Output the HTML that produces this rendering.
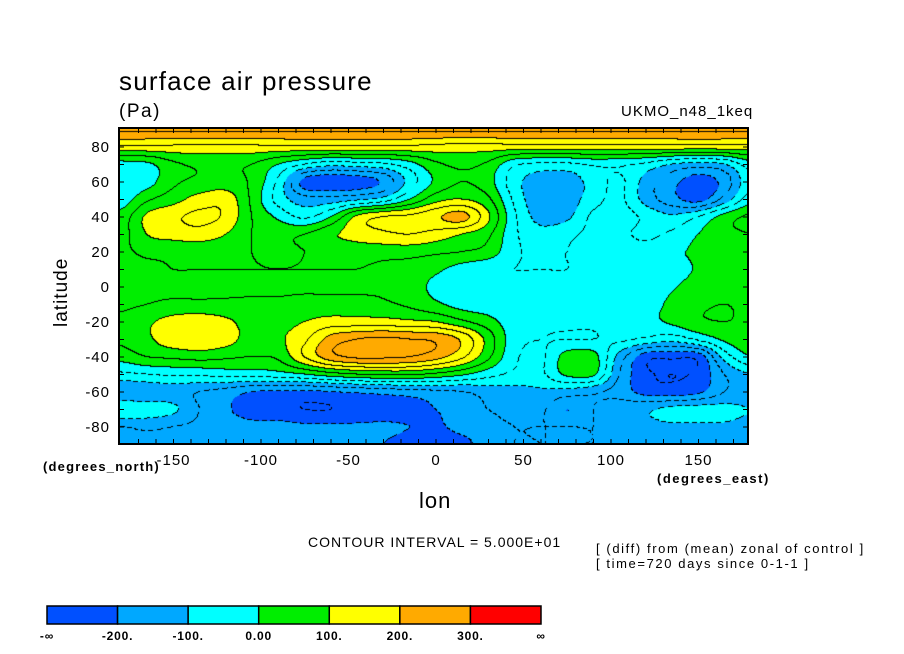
<!DOCTYPE html>
<html><head><meta charset="utf-8"><style>
body{margin:0;background:#fff;width:904px;height:654px;position:relative;overflow:hidden;font-family:"Liberation Sans",sans-serif;}
.t{position:absolute;white-space:nowrap;color:#000;}
</style></head><body>
<div class="t" style="left:119px;top:66px;font-size:26px;letter-spacing:1.2px;">surface air pressure</div>
<div class="t" style="left:119px;top:101px;font-size:19px;letter-spacing:1.5px;">(Pa)</div>
<div class="t" style="left:621px;top:103px;font-size:15px;letter-spacing:1px;">UKMO_n48_1keq</div>
<div class="t" style="left:22px;top:276px;font-size:19px;letter-spacing:1px;transform:rotate(-90deg);transform-origin:40px 11px;">latitude</div>
<div class="t" style="left:43px;top:459px;font-size:13px;font-weight:bold;letter-spacing:1.2px;">(degrees_north)</div>
<div class="t" style="left:657px;top:471px;font-size:13px;font-weight:bold;letter-spacing:1.5px;">(degrees_east)</div>
<div class="t" style="left:419px;top:488px;font-size:22px;letter-spacing:1px;">lon</div>
<div class="t" style="left:308px;top:534px;font-size:14px;letter-spacing:1px;">CONTOUR INTERVAL = 5.000E+01</div>
<div class="t" style="left:596px;top:541px;font-size:13px;letter-spacing:1.6px;">[ (diff) from (mean) zonal of control ]</div>
<div class="t" style="left:596px;top:556px;font-size:13px;letter-spacing:1.6px;">[ time=720 days since 0-1-1 ]</div>
<canvas id="map" width="629" height="316" style="position:absolute;left:119px;top:128px;"></canvas>
<svg id="ov" width="904" height="654" style="position:absolute;left:0;top:0;"></svg>
<script>
const lons=[-180,-165,-150,-135,-120,-105,-90,-75,-60,-45,-30,-15,0,15,30,45,60,75,90,105,120,135,150,165,180];
const lats=[90,80,70,60,50,40,30,20,10,0,-10,-20,-30,-40,-50,-60,-70,-80,-90];
const pressureDiff=[
[260,260,260,260,260,260,260,260,260,260,260,260,260,260,260,260,260,260,260,260,260,260,260,260,260],
[140,140,140,140,140,140,140,140,140,140,140,140,135,130,130,130,130,130,130,130,130,130,130,130,130],
[-20,-10,40,60,60,50,0,-50,-80,-70,-60,-20,40,60,40,-40,-60,-60,-40,-40,-60,-100,-120,-100,-20],
[-40,-20,40,60,70,40,-60,-220,-240,-230,-190,-80,10,50,20,-80,-130,-130,-80,-40,-120,-180,-230,-180,-60],
[-30,40,80,120,130,40,-70,-130,-130,-110,-80,0,80,100,60,-60,-140,-130,-70,-40,-120,-180,-220,-130,-20],
[20,110,140,160,140,50,-10,-60,0,110,150,160,190,220,110,-40,-120,-110,-40,-30,-60,-90,-50,20,60],
[30,100,120,130,100,50,40,50,90,120,140,150,130,100,60,-40,-80,-60,-40,-40,-60,-40,0,40,50],
[40,60,60,60,60,50,40,50,60,70,70,70,60,50,30,-40,-60,-50,-40,-30,-30,-10,10,40,50],
[30,40,50,50,50,50,50,50,50,50,40,30,10,-20,-40,-50,-50,-50,-40,-30,-20,-20,5,20,40],
[20,40,40,40,40,40,40,40,40,40,40,20,-10,-30,-40,-40,-40,-40,-40,-30,-30,-5,20,30,30],
[40,50,60,60,60,60,60,70,70,70,60,40,10,-20,-30,-40,-40,-40,-40,-30,-20,10,40,50,40],
[60,90,120,130,110,80,80,100,120,120,120,110,100,60,20,-30,-40,-40,-40,-30,-20,10,40,50,40],
[60,90,130,140,120,80,90,140,220,250,260,250,240,190,80,-30,-50,-50,-50,-40,-60,-80,-40,10,40],
[20,50,60,70,60,50,60,150,230,260,260,250,220,160,60,-40,-60,20,20,-120,-230,-240,-230,-80,0],
[-60,-50,-40,-40,-30,-30,-20,0,30,50,60,60,40,10,-30,-60,-60,10,10,-150,-240,-250,-240,-150,-100],
[-150,-140,-130,-150,-170,-200,-210,-210,-200,-190,-180,-170,-160,-150,-130,-120,-110,-120,-140,-170,-220,-230,-210,-150,-130],
[-60,-70,-90,-150,-190,-230,-240,-250,-250,-240,-230,-220,-200,-170,-150,-140,-140,-200,-150,-120,-110,-85,-80,-85,-100],
[-150,-140,-150,-160,-170,-180,-180,-190,-190,-190,-190,-200,-210,-180,-160,-150,-150,-150,-150,-140,-120,-110,-110,-110,-120],
[-170,-170,-170,-170,-170,-170,-170,-170,-170,-170,-200,-220,-230,-220,-170,-150,-150,-150,-150,-150,-150,-150,-150,-150,-150]];
const levels=[-200,-100,0,100,200,300];
const legendLabels=["-\u221e","-200.","-100.","0.00","100.","200.","300.","\u221e"];
const colors=["#0050ff","#00a8ff","#00ffff","#00ee00","#ffff00","#ffaa00","#ff0000"];
const xTicks=[-150,-100,-50,0,50,100,150];
const yTicks=[80,60,40,20,0,-20,-40,-60,-80];

const X0=119,Y0=128,W=629,H=316;
const xs=lon=>436+1.75*lon, ys=lat=>287-1.75*lat;
function cr(p0,p1,p2,p3,t){return p1+0.5*t*(p2-p0+t*(2*p0-5*p1+4*p2-p3+t*(3*(p1-p2)+p3-p0)));}
function val(lon,lat){
  let fi=(lon-lons[0])/15, fj=(lats[0]-lat)/10;
  fi=Math.max(0,Math.min(lons.length-1.0001,fi)); fj=Math.max(0,Math.min(lats.length-1.0001,fj));
  const i=Math.floor(fi),j=Math.floor(fj),ti=fi-i,tj=fj-j;
  const g=(jj,ii)=>pressureDiff[Math.max(0,Math.min(lats.length-1,jj))][Math.max(0,Math.min(lons.length-1,ii))];
  const r=[];
  for(let k=-1;k<=2;k++)r.push(cr(g(j+k,i-1),g(j+k,i),g(j+k,i+1),g(j+k,i+2),ti));
  return cr(r[0],r[1],r[2],r[3],tj);
}
function hex(c){return [parseInt(c.substr(1,2),16),parseInt(c.substr(3,2),16),parseInt(c.substr(5,2),16)];}
const rgb=colors.map(hex);
const cv=document.getElementById('map'),ctx=cv.getContext('2d');
const img=ctx.createImageData(W,H);
const V=new Float32Array(W*H);
for(let y=0;y<H;y++)for(let x=0;x<W;x++){
  const lon=(X0+x+0.5-436)/1.75, lat=(287-(Y0+y+0.5))/1.75;
  V[y*W+x]=val(lon,lat);
}
for(let y=0;y<H;y++)for(let x=0;x<W;x++){
  const v=V[y*W+x];let k=0;while(k<levels.length&&v>=levels[k])k++;
  let c=rgb[k];
  const a=Math.floor(v/50);
  const b1=x<W-1?Math.floor(V[y*W+x+1]/50):a, b2=y<H-1?Math.floor(V[(y+1)*W+x]/50):a;
  if(a!==b1||a!==b2){
    const lv=Math.max(a,a!==b1?b1:b2)*50;
    const dashed=lv<0&&((x+y)%8<3);
    if(!dashed)c=[0,0,0];
  }
  const p=(y*W+x)*4;img.data[p]=c[0];img.data[p+1]=c[1];img.data[p+2]=c[2];img.data[p+3]=255;
}
ctx.putImageData(img,0,0);

const NS='http://www.w3.org/2000/svg',ov=document.getElementById('ov');
function mk(tag,attrs,text){const e=document.createElementNS(NS,tag);for(const k in attrs)e.setAttribute(k,attrs[k]);if(text!==undefined)e.textContent=text;ov.appendChild(e);return e;}
const frame=mk('rect',{x:X0,y:Y0,width:W,height:H,fill:'none',stroke:'#000','stroke-width':2});


for(let lon=-170;lon<=170;lon+=10){const x=xs(lon);
  mk('line',{x1:x,x2:x,y1:Y0,y2:Y0+5,stroke:'#000'});mk('line',{x1:x,x2:x,y1:Y0+H,y2:Y0+H-5,stroke:'#000'});}
for(let lat=-80;lat<=80;lat+=10){const y=ys(lat);
  mk('line',{x1:X0,x2:X0+5,y1:y,y2:y,stroke:'#000'});mk('line',{x1:X0+W,x2:X0+W-5,y1:y,y2:y,stroke:'#000'});}
xTicks.forEach(v=>{const t=mk('text',{x:xs(v),y:465,'font-size':15,'letter-spacing':1,'text-anchor':'middle','font-family':'Liberation Sans'},String(v));
  
  });
yTicks.forEach(v=>{const t=mk('text',{x:110,y:ys(v)+5,'font-size':15,'letter-spacing':1,'text-anchor':'end','font-family':'Liberation Sans'},String(v));
  
  });
// legend
const LX=47,LW=494,LY=606,LH=18,sw=LW/colors.length;
colors.forEach((c,i)=>{const r=mk('rect',{x:LX+i*sw,y:LY,width:sw,height:LH,fill:c,stroke:'#000','stroke-width':1.5});
  
  });
legendLabels.forEach((s,i)=>{const t=mk('text',{x:LX+i*sw,y:640,'font-size':12,'font-weight':'bold','letter-spacing':0.8,'text-anchor':'middle','font-family':'Liberation Sans'},s);
  
  });
</script>
</body></html>
